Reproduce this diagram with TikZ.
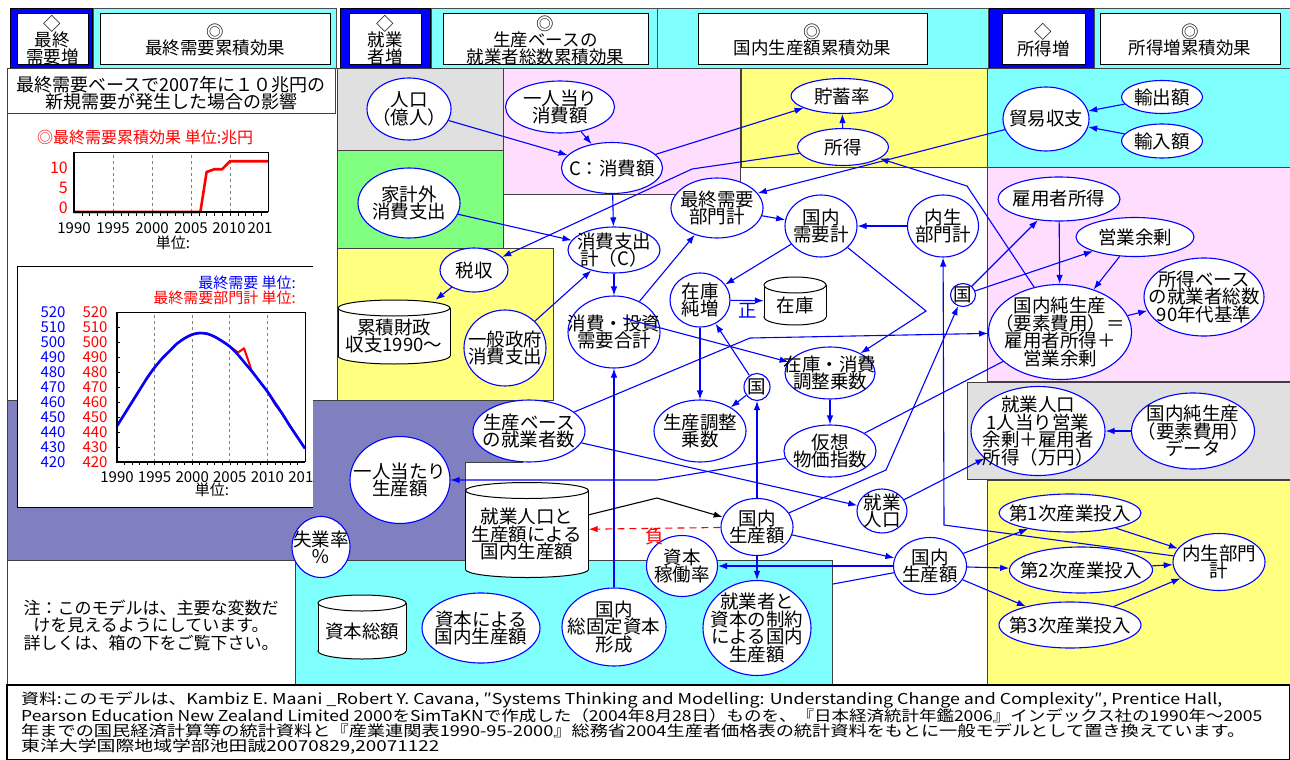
\documentclass[tikz,border=0pt]{standalone}
\usepackage{fontspec}
\usepackage{graphicx}
\setmainfont{Noto Sans CJK JP}
\usetikzlibrary{shapes.geometric,arrows.meta}
\pgfdeclarelayer{bg}\pgfdeclarelayer{conn}\pgfdeclarelayer{fg}
\pgfsetlayers{bg,conn,main,fg}
\definecolor{myblue}{RGB}{0,0,255}
\definecolor{cy}{RGB}{128,255,255}
\definecolor{pk}{RGB}{255,221,255}
\definecolor{yl}{RGB}{255,255,128}
\definecolor{gr}{RGB}{128,255,128}
\definecolor{lg}{RGB}{224,224,224}
\definecolor{pu}{RGB}{128,128,192}
\lineskiplimit=-100pt
\lineskip=0pt
\newcommand\nf{\fontsize{18.5}{17.5}\selectfont}
\newcommand\hf{\fontsize{17.5}{16.5}\selectfont}
\newcommand\cf{\fontsize{15}{15}\selectfont}
\newcommand\btf{\fontsize{15}{15}\selectfont}
\tikzset{
 ev/.style={ellipse, draw=myblue, fill=white, line width=1.1pt, inner sep=0pt},
 lbl/.style={align=center, font=\nf, inner sep=0pt},
 arr/.style={draw=myblue, line width=1.1pt, -{Latex[length=9pt,width=6.5pt]}},
 ln/.style={draw=myblue, line width=1.1pt},
 reg/.style={draw=black!75, line width=1pt},
 cylst/.style={draw=black, line width=1pt},
 hbl/.style={draw=black, line width=0.8pt, fill=myblue},
 hcy/.style={draw=black!70, line width=0.8pt, fill=cy},
 clab/.style={font=\cf, inner sep=0pt},
}
\newcommand\ev[6]{\node[ev, minimum width=#4pt, minimum height=#5pt] (#1) at (#2,#3) {};\node[lbl] (#1-t) at (#1.center) {#6};}
\newcommand\cyl[6]{%
 \node[minimum width=#4pt, minimum height=#5pt, inner sep=0pt] (#1) at (#2,#3) {};
 \draw[cylst, fill=white] (#2,{#3+#5/2-8}) ellipse[x radius=#4/2, y radius=8];
 \fill[white] ({#2-#4/2},{#3-#5/2+8}) rectangle ({#2+#4/2},{#3+#5/2-8});
 \draw[cylst] ({#2-#4/2},{#3-#5/2+8}) -- ({#2-#4/2},{#3+#5/2-8});
 \draw[cylst] ({#2+#4/2},{#3-#5/2+8}) -- ({#2+#4/2},{#3+#5/2-8});
 \draw[cylst, fill=white] (#2,{#3-#5/2+8}) ellipse[x radius=#4/2, y radius=8];
 \node[lbl] (#1-t) at (#2,{#3+4}) {#6};}
\newcommand\hdr[6]{\node[draw=black, line width=0.8pt, fill=white, inner sep=0pt, minimum width=#4pt, minimum height=#5pt] (#1) at (#2,#3) {};\node[lbl, font=\hf] (#1-t) at ([yshift=-1.5pt]#1.center) {#6};}
\begin{document}
\begin{tikzpicture}[x=1pt,y=-1pt]
\useasboundingbox (0,0) rectangle (1290,760);
\begin{pgfonlayer}{bg}
\fill[white] (0,0) rectangle (1290,760);
% header
\path[hbl] (10,8) rectangle (92,68);
\path[hcy] (93,8) rectangle (336,68);
\path[hbl] (340,8) rectangle (430,68);
\path[hcy] (431,8) rectangle (657,68);
\path[hcy] (657,8) rectangle (988,68);
\path[hbl] (989,8) rectangle (1094,68);
\path[hcy] (1094,8) rectangle (1290,68);
% regions
\path[reg, fill=white] (7,69) rectangle (337,400);
\path[reg] (7,69) rectangle (335,113);
\path[reg, fill=lg] (337,69) rectangle (503,150);
\path[reg, fill=pk] (503,69) rectangle (740,194);
\path[reg, fill=yl] (741,69) rectangle (987,167);
\path[reg, fill=cy] (987,69) rectangle (1290,167);
\path[reg, fill=gr] (337,150) rectangle (503,248);
\path[reg, fill=yl] (337,248) rectangle (553,400);
\path[reg, fill=pk] (987,167) rectangle (1290,381);
\path[reg, fill=lg] (967,382) rectangle (1290,479);
\path[reg, fill=yl] (987,480) rectangle (1290,685);
\path[reg, fill=pu] (7,400) -- (522,400) -- (522,462) -- (465,462) -- (465,560) -- (7,560) -- cycle;
\fill[white] (17,266) rectangle (313,507);
\draw[black, line width=1pt] (313,266) -- (17,266) -- (17,507) -- (313,507);
\path[reg, fill=white] (7,560) rectangle (295,685);
\path[reg, fill=cy] (295,560) rectangle (832,685);
\path[draw=black, line width=1.5pt, fill=white] (7,685) rectangle (1290,760);
\end{pgfonlayer}

% header boxes
\hdr{hA}{52.5}{38.5}{71}{51}{◇\\最終\\需要増}
\hdr{hB}{215}{38.5}{230}{51}{◎\\最終需要累積効果}
\hdr{hC}{385}{38.5}{72}{51}{◇\\就業\\者増}
\hdr{hD}{545.5}{38.5}{205}{51}{◎\\生産ベースの\\就業者総数累積効果}
\hdr{hE}{812.5}{38.5}{229}{51}{◎\\国内生産額累積効果}
\hdr{hF}{1043.5}{38.5}{83}{51}{◇\\所得増}
\hdr{hG}{1190}{38.5}{180}{51}{◎\\所得増累積効果}

% left panel
\node[lbl, font=\fontsize{18}{17.5}\selectfont] (title) at (171,93) {最終需要ベースで2007年に１０兆円の\\新規需要が発生した場合の影響};
\node[anchor=west, text=red, inner sep=0pt, font=\fontsize{16}{16}\selectfont] (c1t) at (37,137) {◎最終需要累積効果\ 単位:兆円};
\begin{scope}[shift={(74pt,-212pt)}, x=7.8pt, y=4pt]
 \foreach \g in {5,10,15,20} \draw[gray, dashed, line width=0.7pt] (\g,0) -- (\g,15);
 \foreach \i in {1,...,24} \draw[line width=0.6pt] (\i,0) -- (\i,-0.9);
 \draw[red, line width=2.6pt, line join=round] (0,0) -- (16.2,0) -- (17,10) -- (18,10.7) -- (19,10.7) -- (20,12.7) -- (24.9,12.7);
 \draw[line width=0.8pt] (0,15) -- (24.9,15) -- (24.9,0);
 \draw[line width=2.2pt] (0,15) -- (0,0) -- (24.9,0);
\end{scope}
\node[clab, anchor=east, text=red, font=\fontsize{16}{16}\selectfont] (c1y10) at (68,168) {10};
\node[clab, anchor=east, text=red, font=\fontsize{16}{16}\selectfont] (c1y5) at (68,188) {5};
\node[clab, anchor=east, text=red, font=\fontsize{16}{16}\selectfont] (c1y0) at (68,208) {0};
\foreach \yr/\xx in {1990/74,1995/113,2000/152,2005/191,2010/229} \node[clab] (c1x\yr) at (\xx,228) {\yr};
\node[clab] (c1x2015) at (260,228) {201};
\node[clab] (c1u) at (173,243) {単位:};

\node[clab, anchor=east, text=myblue] (lg1) at (296,283) {最終需要\ 単位:};
\node[clab, anchor=east, text=red] (lg2) at (296,298) {最終需要部門計\ 単位:};
\foreach \v [count=\i] in {520,510,...,420} {
 \node[clab, text=myblue] (c2b\i) at (53,{312+(520-\v)*1.5}) {\v};
 \node[clab, text=red] (c2r\i) at (95,{312+(520-\v)*1.5}) {\v};
}
\begin{scope}
\clip (17,266) rectangle (313,507);
\foreach \yr/\xx in {1990/117,1995/154.6,2000/192.2,2005/229.8,2010/267.4,2015/305} \node[clab] (c2x\yr) at (\xx,477) {\yr};
\end{scope}
\node[clab] (c2u) at (212,490) {単位:};
\begin{scope}[shift={(117pt,-462pt)}, x=7.52pt, y=1.5pt]
 \foreach \g in {5,10,15,20} \draw[gray, dashed, line width=0.7pt] (\g,0) -- (\g,100);
 \foreach \i in {1,...,24} \draw[line width=0.6pt] (\i,0) -- (\i,-2);
 \foreach \i in {1,...,9} \draw[line width=0.6pt] (0,10*\i) -- (0.4,10*\i);
 \draw[red, line width=2pt, line join=round] plot coordinates {(0,24) (1,32) (2,40) (3,48) (4,56) (5,63) (6,69) (7,74) (8,79) (9,82.5) (10,85) (11,86) (12,85.5) (13,83.5) (14,80.5) (15,77) (16.1,73) (16.9,75.8) (17.9,61) (19,53.5) (20,47) (20.6,42) (21,38.5) (22,32) (23,24) (24,16.5) (25,9)};
 \draw[myblue, line width=2.6pt, line join=round] plot[smooth] coordinates {(0,24) (1,32) (2,40) (3,48) (4,56) (5,63) (6,69) (7,74) (8,79) (9,82.5) (10,85) (11,86) (12,85.5) (13,83.5) (14,80.5) (15,77) (16,72) (17,66) (18,60) (19,53.5) (20,47) (21,39.5) (22,32) (23,24) (24,16.5) (25,9)};
 \draw[line width=0.8pt] (0,100) -- (25,100) -- (25,0);
 \draw[line width=2.2pt] (0,100) -- (0,0) -- (25,0);
\end{scope}

% note
\node[lbl, font=\fontsize{17}{17.5}\selectfont] (note) at (151,625) {注：このモデルは、主要な変数だ\\けを見えるようにしています。\\詳しくは、箱の下をご覧下さい。};

% nodes
\ev{jinko}{409}{109}{84}{62}{人口\\（億人）}
\ev{ichi}{560}{107}{109}{52}{一人当り\\消費額}
\ev{cons}{612}{168}{101}{51}{C：消費額}
\ev{chochiku}{842}{96}{102}{35}{貯蓄率}
\ev{shotoku}{843}{147}{91}{37}{所得}
\ev{boeki}{1046}{119}{86}{64}{貿易収支}
\ev{yushutsu}{1162}{97}{81}{33}{輸出額}
\ev{yunyu}{1162}{141}{81}{34}{輸入額}
\ev{kakeigai}{409}{203}{102}{70}{家計外\\消費支出}
\ev{saishu}{717}{208}{92}{60}{最終需要\\部門計}
\ev{kokunaiju}{821}{226}{72}{62}{国内\\需要計}
\ev{naisei}{943}{226}{71}{62}{内生\\部門計}
\ev{koyo}{1059}{199}{122}{44}{雇用者所得}
\ev{eigyo}{1135}{237}{118}{39}{営業余剰}
\ev{shohi}{614}{250}{92}{46}{消費支出\\計（C）}
\ev{zeishu}{474}{270}{68}{44}{税収}
\cyl{zaisei}{394}{332}{112}{64}{累積財政\\収支1990～}
\ev{ippan}{505}{348}{82}{76}{一般政府\\消費支出}
\ev{toshi}{614}{332}{92}{72}{消費・投資\\需要合計}
\ev{zaikozo}{700}{300}{60}{54}{在庫\\純増}
\cyl{zaiko}{795}{301}{62}{48}{在庫}
\ev{kuniR}{963}{295}{25}{23}{国}
\ev{junseisan}{1060}{332}{143}{95}{国内純生産\\（要素費用）＝\\雇用者所得＋\\営業余剰}
\ev{shotokubase}{1204}{297}{120}{78}{所得ベース\\の就業者総数\\90年代基準}
\ev{chosei}{830}{373}{90}{52}{在庫・消費\\調整乗数}
\ev{kuniC}{757}{387}{26}{27}{国}
\ev{seisanchosei}{700}{431}{92}{62}{生産調整\\乗数}
\ev{kaso}{830}{451}{92}{52}{仮想\\物価指数}
\ev{seisanbase}{529}{431}{112}{62}{生産ベース\\の就業者数}
\ev{hitori}{400}{480}{100}{87}{一人当たり\\生産額}
\ev{shugyo1}{1038}{431}{134}{89}{就業人口\\1人当り営業\\余剰＋雇用者\\所得（万円）}
\ev{junseidata}{1193}{431}{123}{76}{国内純生産\\（要素費用）\\データ}
\ev{shugyo}{882}{511}{50}{44}{就業\\人口}
\cyl{shugyocyl}{527}{530}{123}{95}{就業人口と\\生産額による\\国内生産額}
\ev{kokunaiC}{757}{527}{72}{57}{国内\\生産額}
\ev{shitsugyo}{321}{547}{58}{61}{失業率\\％}
\ev{kado}{682}{566}{71}{61}{資本\\稼働率}
\ev{kokunaiR}{930}{566}{73}{57}{国内\\生産額}
\ev{dai1}{1070}{513}{142}{38}{第1次産業投入}
\ev{dai2}{1081}{570}{143}{46}{第2次産業投入}
\ev{dai3}{1070}{625}{142}{46}{第3次産業投入}
\ev{naiseiR}{1219}{562}{92}{57}{内生部門\\計}
\cyl{shihon}{362}{627}{88}{64}{資本総額}
\ev{shihonseisan}{481}{628}{118}{70}{資本による\\国内生産額}
\ev{kotei}{614}{627}{104}{78}{国内\\総固定資本\\形成}
\ev{seiyaku}{757}{628}{108}{95}{就業者と\\資本の制約\\による国内\\生産額}

\node[text=myblue, font=\nf, inner sep=0pt] (sei) at (748,311) {正};
\node[text=red, font=\nf, inner sep=0pt] (fu) at (655,537) {負};

\coordinate (b1) at (692,169);
\coordinate (b2) at (967,186);
\coordinate (b3) at (926,311);
\coordinate (b4) at (657,480);
\coordinate (b5) at (750,338);
\coordinate (b6) at (886,470);
\coordinate (b7) at (944,525);
\coordinate (b8) at (657,498);
\coordinate (e1) at (833,584);
\coordinate (toshiIn) at (623,318);

\begin{pgfonlayer}{conn}
\draw[arr] (jinko) -- (cons);
\draw[arr] (ichi) -- (cons);
\draw[arr] (cons) -- (chochiku);
\draw[arr] (shotoku) -- (chochiku);
\draw[arr] (shotoku) -- (b1) -- (zeishu);
\draw[arr] (boeki) -- (saishu.20);
\draw[arr] (yushutsu) -- (boeki);
\draw[arr] (yunyu) -- (boeki);
\draw[arr] (junseisan.120) -- (b2) -- (shotoku);
\draw[arr] (kakeigai) -- (shohi);
\draw[arr] (cons) -- (shohi);
\draw[arr] (shohi) -- (toshi);
\draw[arr] (ippan) -- (shohi);
\draw[arr] (zeishu) -- (zaisei);
\draw[arr] (toshi) -- (saishu);
\draw[arr] (saishu) -- (kokunaiju);
\draw[arr] (naisei) -- (kokunaiju);
\draw[arr] (kokunaiju) -- (zaikozo);
\draw[arr] (kokunaiju) -- (b3) -- (chosei);
\draw[arr] (zaikozo) -- (zaiko);
\draw[arr] (zaikozo) -- (seisanchosei);
\draw[arr] (kuniC) -- (zaikozo);
\draw[arr] (kuniC) -- (seisanchosei);
\draw[arr] (kokunaiC) -- (kuniC);
\draw[arr] (chosei) -- (kaso);
\draw[arr] (kaso) -- (b4) -- (hitori);
\draw[ln] (kaso) -- (junseisan);
\draw[arr] (seisanbase) -- (b5) -- (junseisan);
\draw[arr] (seisanbase) -- (shugyo);
\draw[arr] (shugyo) -- (shugyo1);
\draw[arr] (junseidata) -- (shugyo1);
\draw[arr] (kokunaiC) -- (b6) -- (kuniR);
\draw[arr] (kuniR) -- (koyo);
\draw[arr] (kuniR) -- (eigyo);
\draw[arr] (koyo) -- (junseisan);
\draw[arr] (eigyo) -- (junseisan);
\draw[arr] (junseisan) -- (shotokubase);
\draw[arr] (naiseiR) -- (b7) -- (naisei);
\draw[arr] (kokunaiC) -- (kokunaiR);
\draw[arr] (kokunaiR) -- (dai1);
\draw[arr] (kokunaiR) -- (dai2);
\draw[arr] (kokunaiR) -- (dai3);
\draw[arr] (dai1) -- (naiseiR);
\draw[arr] (dai2) -- (naiseiR);
\draw[arr] (dai3) -- (naiseiR);
\draw[arr] (kokunaiR) -- (kado);
\draw[ln] (kokunaiR) -- (e1);
\draw[arr] (kokunaiC) -- (seiyaku);
\draw[arr] (kotei) -- (toshi);
\draw[line width=1.1pt, -{Latex[length=9pt,width=6.5pt]}] (shugyocyl) -- (b8) -- (kokunaiC);
\draw[red, line width=1.1pt, dash pattern=on 7pt off 5pt, -{Latex[length=9pt,width=6.5pt]}] (kokunaiC) -- (shugyocyl);
\end{pgfonlayer}
\begin{pgfonlayer}{fg}
\draw[arr] (toshiIn) -- (chosei);
\end{pgfonlayer}

% bottom text
\node[anchor=west, inner sep=0pt, font=\btf] (src1) at (21,700) {\resizebox{1201pt}{\height}{資料:このモデルは、Kambiz E. Maani \_Robert Y. Cavana, ″Systems Thinking and Modelling: Understanding Change and Complexity″, Prentice Hall,}};
\node[anchor=west, inner sep=0pt, font=\btf] (src2) at (21,716) {\resizebox{1241pt}{\height}{Pearson Education New Zealand Limited 2000をSimTaKNで作成した（2004年8月28日）ものを、『日本経済統計年鑑2006』インデックス社の1990年～2005}};
\node[anchor=west, inner sep=0pt, font=\btf] (src3) at (21,731) {\resizebox{1224pt}{\height}{年までの国民経済計算等の統計資料と『産業連関表1990-95-2000』総務省2004生産者価格表の統計資料をもとに一般モデルとして置き換えています。}};
\node[anchor=west, inner sep=0pt, font=\btf] (src4) at (21,747) {\resizebox{418pt}{\height}{東洋大学国際地域学部池田誠20070829,20071122}};
\end{tikzpicture}
\end{document}
